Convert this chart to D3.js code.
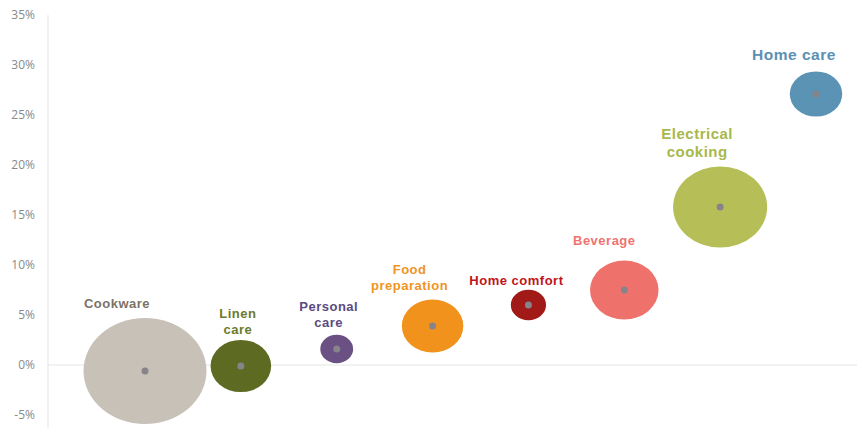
<!DOCTYPE html>
<html>
<head>
<meta charset="utf-8">
<script src="https://cdn.jsdelivr.net/npm/d3@7"></script>
<style>
  body { margin: 0; background: #fff; }
  svg { display: block; }
</style>
</head>
<body>
<svg id="chart" width="857" height="428"></svg>
<script>
// data
const categories = ["Cookware", "Linen care", "Personal care", "Food preparation",
    "Home comfort", "Beverage", "Electrical cooking", "Home care"];
const growth = [-0.6, -0.1, 1.6, 3.9, 6.0, 7.5, 15.8, 27.1];   // % (y)
const size = [28, 6.8, 2.0, 7.0, 2.3, 8.7, 16.4, 5.1];          // bubble size
const yTicks = [-5, 0, 5, 10, 15, 20, 25, 30, 35];

// styling
const fills = ["#c8c1b8", "#5d6a22", "#6a5083", "#f0921c", "#a11a17", "#ef716b", "#b6bf57", "#5a93b4"];
const labelColors = ["#7b7268", "#6b7a2c", "#5b4a80", "#f0941f", "#c0141c", "#ef7470", "#a8b84c", "#5b90b5"];
const labelLines = [["Cookware"], ["Linen", "care"], ["Personal", "care"], ["Food", "preparation"],
    ["Home comfort"], ["Beverage"], ["Electrical", "cooking"], ["Home care"]];
const labelDx = [-28, -3, -8, -23, -12, -20, -23, -22];
const labelDy = [-63, -48, -38, -52, -20, -45, -68, -34];
const labelSize = [13, 13, 13, 13, 13, 13, 15, 15.5];

let svg = d3.select("#chart");
let width = +svg.attr("width");
let height = +svg.attr("height");

const axisX = 48;

let x = d3.scalePoint().domain(categories).range([145, 816]);
let y = d3.scaleLinear().domain([-5, 35]).range([415, 15]);
let r = d3.scaleSqrt().domain([0, d3.max(size)]).range([0, 53]);
const stretch = 1.16; // bubbles are drawn a bit wider than tall

// y axis line
svg.append("line")
    .attr("x1", axisX).attr("x2", axisX)
    .attr("y1", y(35)).attr("y2", height)
    .style("stroke", "#e3e3e3")
    .style("stroke-width", 1);

// zero line
svg.append("line")
    .attr("x1", axisX).attr("x2", width)
    .attr("y1", y(0)).attr("y2", y(0))
    .style("stroke", "#e6e6e6")
    .style("stroke-width", 1);

// tick labels
svg.selectAll(".tick")
    .data(yTicks)
    .enter().append("text")
    .attr("class", "tick")
    .attr("x", 35)
    .attr("y", d => y(d))
    .attr("dy", ".35em")
    .style("text-anchor", "end")
    .style("font-family", "'Open Sans', sans-serif")
    .style("font-size", "12px")
    .style("fill", "#8a8a8a")
    .text(d => d + "%");

let data = categories.map((c, i) => ({ name: c, g: growth[i], s: size[i], i: i }));

// bubbles
svg.selectAll(".bubble")
    .data(data)
    .enter().append("ellipse")
    .attr("class", "bubble")
    .attr("cx", d => x(d.name))
    .attr("cy", d => y(d.g))
    .attr("rx", d => r(d.s) * stretch)
    .attr("ry", d => r(d.s))
    .style("fill", d => fills[d.i]);

// centre dots
svg.selectAll(".dot")
    .data(data)
    .enter().append("circle")
    .attr("class", "dot")
    .attr("cx", d => x(d.name))
    .attr("cy", d => y(d.g))
    .attr("r", 3.5)
    .style("fill", "#86848a");

// labels
let labels = svg.selectAll(".label")
    .data(data)
    .enter().append("text")
    .attr("class", "label")
    .attr("x", d => x(d.name) + labelDx[d.i])
    .attr("y", d => y(d.g) + labelDy[d.i])
    .style("text-anchor", "middle")
    .style("font-family", "'Liberation Sans', Arial, sans-serif")
    .style("font-weight", "bold")
    .style("letter-spacing", "0.5px")
    .style("font-size", d => labelSize[d.i] + "px")
    .style("fill", d => labelColors[d.i]);

labels.each(function (d) {
    let t = d3.select(this);
    labelLines[d.i].forEach((line, k) => {
        t.append("tspan")
            .attr("x", x(d.name) + labelDx[d.i])
            .attr("dy", k === 0 ? 0 : labelSize[d.i] * 1.2 + "px")
            .text(line);
    });
});
</script>
</body>
</html>
